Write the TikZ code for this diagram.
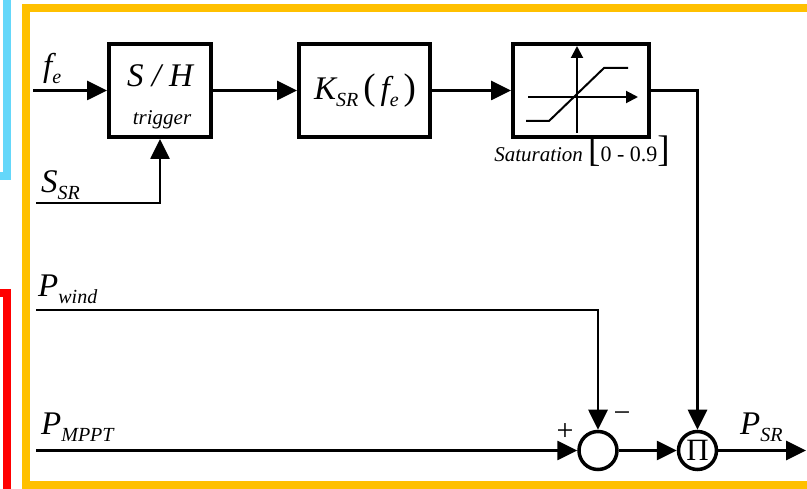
\documentclass[tikz,border=0pt]{standalone}
\usepackage{fontspec}
\setmainfont{Liberation Serif}
\usetikzlibrary{arrows.meta}
\definecolor{frameorange}{RGB}{255,192,0}
\definecolor{framecyan}{RGB}{100,215,250}
\definecolor{framered}{RGB}{255,0,0}
\newcommand{\bigit}[1]{{\fontsize{33}{33}\selectfont\itshape #1}}
\newcommand{\subit}[1]{\raisebox{-7pt}{\fontsize{20}{20}\selectfont\itshape #1}}
\newcommand{\bigparen}[1]{{\fontsize{37}{37}\selectfont #1}}
\begin{document}
\begin{tikzpicture}[x=1pt,y=-1pt,
  blk/.style={draw, line width=4pt, minimum width=#1, minimum height=93pt, inner sep=0pt},
  blk/.default=102pt,
  junc/.style={draw, circle, line width=3.5pt, minimum size=38pt, inner sep=0pt},
  conn/.style={line width=2.7pt, -{Triangle[length=20pt,width=19pt]}},
  lbl/.style={anchor=base west, inner sep=0pt},
  inner/.style={line width=2pt},
  innerarrow/.style={line width=2pt, -{Triangle[length=12pt,width=12pt]}}
]
\useasboundingbox (0,0) rectangle (807,489);
\clip (0,0) rectangle (807,489);

% frames
\draw[frameorange, line width=8pt, line join=miter] (830,8) -- (26,8) -- (26,485) -- (830,485);
\draw[framecyan, line width=8pt, line join=miter] (-10,176.5) -- (7,176.5) -- (7,-10);
\draw[framered, line width=8pt, line join=miter] (-10,293.5) -- (7,293.5) -- (7,510);

% blocks
\node[blk] (sh) at (160,90.5) {};
\node[inner sep=0pt, anchor=base] (shtext) at (160,87) {\bigit{S / H}};
\node[inner sep=0pt, anchor=base] (trig) at (162,125) {\fontsize{21}{21}\selectfont\itshape trigger};

\node[blk=131pt] (k) at (364.5,90.5) {};
\node[inner sep=0pt, anchor=base] (ktext) at (365,100)
  {\bigit{K}\subit{SR}\hspace{5pt}\bigparen{(}\hspace{5pt}\bigit{f}\subit{e}\hspace{5pt}\bigparen{)}};

\node[blk=136pt] (sat) at (581,90.5) {};
\draw[innerarrow] (577,133) -- (577,46);
\draw[innerarrow] (528,97) -- (638,97);
\draw[inner] (526,121) -- (549,121) -- (604,68) -- (628,68);
\node[inner sep=0pt, anchor=base] (sattext) at (582,162)
  {\fontsize{21}{21}\selectfont\itshape Saturation\/ \upshape\fontsize{22}{22}\selectfont\bigparen{[}0 - 0.9\bigparen{]}};

% junctions
\node[junc] (sum) at (598,450.5) {};
\node[junc] (prod) at (697.5,450.5) {\fontsize{31}{31}\selectfont Π};
\node[inner sep=0pt] (plus) at (565,432) {\fontsize{30}{30}\selectfont +};
\node[inner sep=0pt] (minus) at (622,417) {\fontsize{30}{30}\selectfont −};

% inputs
\coordinate (fein) at (33,90.5);
\coordinate (ssrin) at (36,203);
\coordinate (pwin) at (36,310);
\coordinate (pmin) at (36,450.5);
\coordinate (out) at (806,450.5);

\node[lbl] (felbl) at (43,77) {\bigit{f}\subit{e}};
\node[lbl] (ssrlbl) at (41,193) {\bigit{S}\subit{SR}};
\node[lbl] (pwlbl) at (38,297) {\bigit{P}\subit{wind}};
\node[lbl] (pmlbl) at (41,435) {\bigit{P}\subit{MPPT}};
\node[lbl] (psrlbl) at (740,435) {\bigit{P}\subit{SR}};

% connectors
\draw[conn] (fein) -- (sh.west);
\draw[conn] (ssrin) -| (sh.south);
\draw[conn] (sh.east) -- (k.west);
\draw[conn] (k.east) -- (sat.west);
\draw[conn] (sat.east) -| (prod.north);
\draw[conn] (pwin) -| (sum.north);
\draw[conn] (pmin) -- (sum.west);
\draw[conn] (sum.east) -- (prod.west);
\draw[conn] (prod.east) -- (out);
\end{tikzpicture}
\end{document}
